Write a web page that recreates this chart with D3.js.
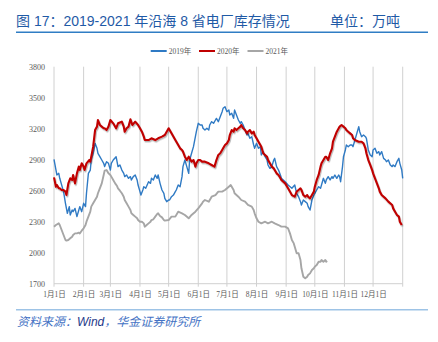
<!DOCTYPE html>
<html>
<head>
<meta charset="utf-8">
<script src="https://cdn.jsdelivr.net/npm/d3@7"></script>
<style>
  html, body { margin: 0; padding: 0; background: #fff; }
  svg { display: block; }
</style>
</head>
<body>
<svg id="chart" width="438" height="342"></svg>
<script>
// ---- Text and axis labels ----
const titleText = "图 17：2019-2021 年沿海 8 省电厂库存情况";
const unitText = "单位：万吨";
const sourceLead = "资料来源：";
const sourceName = "Wind";
const sourceTail = "，华金证券研究所";
const monthStarts = [0, 31, 59, 90, 120, 151, 181, 212, 243, 273, 304, 334];
const monthLabels = ["1月1日", "2月1日", "3月1日", "4月1日", "5月1日", "6月1日",
                     "7月1日", "8月1日", "9月1日", "10月1日", "11月1日", "12月1日"];
const yearEnd = 365;
const yTicks = [1700, 2000, 2300, 2600, 2900, 3200, 3500, 3800];
const seriesNames = ["2019年", "2020年", "2021年"];

// ---- Coal stock, [day of year, 10k tonnes] ----
const stock2019 = [[0,2904],[3,2752],[5,2768],[6,2720],[10,2591],[12,2478],[14,2381],[16,2446],[17,2365],[19,2413],[20,2397],[22,2429],[24,2349],[26,2413],[27,2446],[29,2397],[31,2478],[33,2446],[34,2575],[36,2768],[38,2800],[39,2897],[41,2962],[43,3058],[45,3010],[46,2962],[48,2929],[50,2897],[52,2865],[53,2833],[55,2881],[57,2865],[59,2800],[60,2865],[62,2897],[65,2929],[66,2881],[67,2833],[69,2849],[71,2800],[73,2768],[74,2736],[76,2752],[78,2720],[80,2736],[81,2704],[83,2736],[85,2752],[87,2704],[88,2655],[90,2591],[91,2558],[93,2607],[94,2639],[96,2623],[99,2687],[101,2671],[102,2720],[104,2704],[106,2752],[108,2720],[109,2752],[111,2671],[113,2607],[115,2575],[116,2526],[118,2494],[120,2510],[121,2510],[123,2542],[125,2558],[127,2591],[128,2607],[130,2655],[132,2639],[134,2736],[135,2833],[137,2897],[139,2833],[141,2768],[142,2897],[144,2962],[146,3026],[148,3123],[149,3171],[151,3252],[153,3236],[155,3236],[156,3204],[158,3187],[160,3204],[162,3187],[163,3236],[165,3268],[167,3252],[169,3284],[170,3300],[172,3268],[174,3316],[176,3365],[177,3397],[179,3413],[181,3365],[183,3381],[184,3333],[186,3349],[188,3300],[189,3381],[191,3333],[193,3284],[195,3252],[196,3268],[198,3236],[200,3187],[202,3139],[203,3155],[205,3107],[207,3123],[209,3042],[210,3010],[212,3058],[214,3010],[216,3026],[217,2946],[219,2978],[221,2929],[223,2897],[224,2849],[226,2816],[228,2833],[230,2897],[231,2913],[233,2833],[235,2800],[237,2752],[238,2720],[240,2704],[242,2687],[245,2655],[249,2623],[252,2655],[254,2575],[256,2542],[258,2494],[259,2462],[261,2510],[263,2494],[265,2478],[266,2446],[268,2413],[270,2510],[272,2558],[273,2575],[275,2607],[277,2639],[279,2623],[280,2655],[282,2720],[284,2671],[285,2704],[287,2736],[289,2704],[291,2736],[292,2720],[294,2752],[296,2720],[298,2752],[299,2736],[300,2687],[302,2833],[303,2929],[305,2994],[306,3042],[308,3026],[310,3042],[312,3042],[313,3026],[315,3090],[317,3155],[319,3220],[320,3171],[322,3123],[324,3139],[326,3123],[327,3107],[329,2994],[331,2946],[333,2929],[334,2994],[336,3010],[338,2962],[340,2978],[341,2946],[343,2978],[345,2913],[347,2897],[348,2881],[350,2897],[352,2849],[354,2833],[355,2849],[357,2833],[359,2881],[361,2913],[362,2865],[364,2800],[365,2720]];

const stock2020 = [[0,2729],[2,2639],[3,2655],[5,2623],[6,2623],[8,2607],[10,2607],[12,2591],[13,2558],[15,2671],[17,2720],[19,2704],[20,2752],[22,2671],[24,2768],[26,2833],[27,2800],[29,2865],[31,2833],[32,2800],[34,2865],[37,2897],[38,2881],[39,2929],[41,3026],[43,3187],[45,3220],[46,3284],[48,3236],[50,3220],[52,3204],[53,3204],[55,3187],[57,3220],[59,3284],[62,3252],[65,3204],[67,3252],[71,3268],[73,3220],[74,3171],[76,3204],[78,3220],[80,3291],[82,3236],[85,3268],[88,3236],[90,3204],[92,3171],[94,3123],[95,3090],[99,3090],[102,3107],[106,3090],[109,3107],[113,3123],[116,3139],[120,3204],[123,3155],[127,3090],[132,3010],[134,2994],[135,2978],[137,2929],[139,2897],[141,2929],[142,2913],[144,2881],[146,2897],[148,2833],[149,2865],[151,2897],[153,2897],[155,2881],[158,2881],[162,2865],[165,2849],[168,2833],[170,2897],[172,2946],[174,2962],[176,2994],[177,3010],[179,3042],[181,3058],[183,3090],[184,3139],[186,3187],[188,3171],[189,3204],[191,3187],[193,3204],[195,3220],[196,3236],[198,3204],[200,3187],[202,3155],[203,3171],[205,3187],[207,3155],[209,3171],[210,3139],[212,3107],[214,3074],[216,3042],[217,3026],[219,2962],[221,2946],[223,2929],[224,2897],[226,2865],[228,2833],[230,2816],[231,2800],[233,2768],[235,2752],[237,2720],[238,2704],[242,2671],[245,2623],[249,2558],[252,2542],[254,2591],[256,2607],[258,2623],[259,2607],[261,2558],[263,2542],[265,2558],[266,2542],[268,2526],[270,2558],[272,2591],[273,2639],[275,2704],[277,2752],[279,2833],[280,2865],[282,2897],[284,2929],[285,2929],[287,2897],[289,2962],[291,3010],[292,3074],[294,3123],[296,3171],[298,3204],[299,3220],[301,3236],[303,3220],[305,3204],[306,3187],[308,3171],[310,3155],[312,3139],[313,3107],[315,3090],[319,3074],[322,3074],[324,3058],[326,3010],[327,2962],[329,2897],[331,2849],[333,2800],[334,2768],[336,2720],[338,2671],[340,2623],[341,2591],[343,2558],[347,2526],[350,2494],[354,2462],[355,2429],[357,2397],[359,2365],[361,2349],[362,2300],[364,2268]];

const stock2021 = [[0,2252],[2,2268],[5,2284],[6,2268],[8,2220],[10,2171],[12,2123],[13,2117],[15,2123],[17,2139],[19,2155],[20,2171],[22,2187],[24,2187],[26,2194],[27,2187],[29,2213],[31,2236],[33,2268],[34,2300],[36,2349],[38,2397],[39,2446],[41,2478],[43,2510],[45,2542],[46,2575],[48,2623],[50,2671],[52,2752],[53,2794],[55,2800],[57,2768],[59,2752],[60,2736],[62,2704],[64,2671],[66,2645],[67,2623],[69,2600],[71,2575],[73,2542],[74,2510],[76,2478],[78,2446],[80,2413],[81,2381],[83,2365],[85,2349],[87,2333],[88,2316],[90,2300],[92,2300],[94,2284],[95,2252],[97,2268],[99,2284],[101,2300],[102,2316],[104,2323],[106,2349],[108,2374],[109,2381],[111,2355],[113,2342],[115,2316],[116,2310],[120,2316],[123,2349],[127,2349],[130,2397],[134,2381],[137,2365],[141,2333],[144,2365],[148,2397],[151,2429],[155,2478],[156,2494],[158,2510],[162,2494],[165,2542],[169,2558],[172,2591],[176,2591],[179,2607],[183,2639],[185,2655],[188,2607],[189,2575],[193,2542],[196,2510],[200,2494],[203,2462],[207,2446],[209,2413],[210,2381],[212,2333],[214,2300],[217,2284],[221,2300],[224,2284],[228,2300],[231,2284],[235,2268],[238,2252],[242,2252],[245,2236],[247,2187],[249,2123],[251,2090],[252,2058],[254,1994],[256,1994],[258,1929],[259,1849],[261,1768],[263,1752],[265,1768],[266,1784],[268,1800],[270,1833],[272,1849],[273,1865],[275,1881],[277,1913],[279,1913],[280,1929],[282,1913],[284,1929],[285,1913],[286,1919]];

const seriesData = [stock2019, stock2020, stock2021];
const seriesColors = ["#2f7ac4", "#c00000", "#a6a6a6"];
const seriesWidths = [1.4, 2.1, 1.9];

// ---- Layout ----
const svg = d3.select("#chart");
const plot = { left: 54, right: 402.7, top: 66.7, bottom: 283.7 };
const x = d3.scaleLinear().domain([0, yearEnd]).range([plot.left, plot.right]);
const y = d3.scaleLinear().domain([1700, 3800]).range([plot.bottom, plot.top]);

const cjkSans = "'Liberation Sans', Arial, 'Noto Sans CJK SC', sans-serif";
const cjkSerif = "'Liberation Serif', 'Times New Roman', 'Noto Sans CJK SC', serif";

// Soft shadow under the 2020 line
const defs = svg.append("defs");
const shadow = defs.append("filter").attr("id", "lineShadow")
  .attr("x", "-5%").attr("y", "-5%").attr("width", "110%").attr("height", "120%");
shadow.append("feDropShadow").attr("dx", 0.8).attr("dy", 1.4)
  .attr("stdDeviation", 0.7).attr("flood-color", "#000").attr("flood-opacity", 0.3);

// Header
svg.append("text").attr("x", 16).attr("y", 26)
  .attr("font-family", cjkSans).attr("font-size", 14).attr("fill", "#1f5aa6")
  .text(titleText);
svg.append("text").attr("x", 330).attr("y", 26)
  .attr("font-family", cjkSans).attr("font-size", 14).attr("fill", "#1f5aa6")
  .text(unitText);
svg.append("line").attr("x1", 16).attr("x2", 428).attr("y1", 32.3).attr("y2", 32.3)
  .attr("stroke", "#2f7dc4").attr("stroke-width", 1.4);

// Vertical gridlines at month starts and year end
const gridDays = monthStarts.concat([yearEnd]);
svg.append("g").selectAll("line").data(gridDays).join("line")
  .attr("x1", d => x(d)).attr("x2", d => x(d))
  .attr("y1", plot.top).attr("y2", plot.bottom + 3)
  .attr("stroke", "#d0d0d0").attr("stroke-width", 1);

// Baseline
svg.append("line").attr("x1", plot.left).attr("x2", plot.right)
  .attr("y1", plot.bottom).attr("y2", plot.bottom)
  .attr("stroke", "#d0d0d0").attr("stroke-width", 1);

// X axis labels
const xAxis = d3.axisBottom(x).tickValues(monthStarts)
  .tickFormat((d, i) => monthLabels[i]).tickSize(0).tickPadding(8);
const gx = svg.append("g").attr("transform", `translate(0,${plot.bottom})`).call(xAxis);
gx.select(".domain").remove();
gx.selectAll("text").attr("font-family", cjkSerif).attr("font-size", 7.5).attr("fill", "#595959");

// Y axis labels
const yAxis = d3.axisLeft(y).tickValues(yTicks).tickFormat(d3.format("d"))
  .tickSize(0).tickPadding(9);
const gy = svg.append("g").attr("transform", `translate(${plot.left},0)`).call(yAxis);
gy.select(".domain").remove();
gy.selectAll("text").attr("font-family", cjkSerif).attr("font-size", 8).attr("fill", "#595959");

// Series lines
const line = d3.line().x(d => x(d[0])).y(d => y(d[1])).curve(d3.curveLinear);
seriesData.forEach((data, i) => {
  svg.append("path").datum(data)
    .attr("d", line)
    .attr("fill", "none")
    .attr("stroke", seriesColors[i])
    .attr("stroke-width", seriesWidths[i])
    .attr("stroke-linejoin", "round")
    .attr("filter", i === 1 ? "url(#lineShadow)" : null);
});

// Legend
const legendX = [150.7, 199, 247.5];
const legend = svg.append("g").selectAll("g").data(seriesNames).join("g")
  .attr("transform", (d, i) => `translate(${legendX[i]},51)`);
legend.append("line").attr("x1", 0).attr("x2", 16).attr("y1", 0).attr("y2", 0)
  .attr("stroke", (d, i) => seriesColors[i]).attr("stroke-width", 2);
legend.append("text").attr("x", 18).attr("y", 2.8)
  .attr("font-family", cjkSerif).attr("font-size", 7.5).attr("fill", "#595959")
  .text(d => d);

// Footer
svg.append("line").attr("x1", 16).attr("x2", 428).attr("y1", 309.7).attr("y2", 309.7)
  .attr("stroke", "#9dc3e6").attr("stroke-width", 1.6);
const src = svg.append("text").attr("x", 17).attr("y", 326)
  .attr("font-family", cjkSans).attr("font-size", 12).attr("font-style", "italic")
  .attr("fill", "#4472c4");
src.append("tspan").text(sourceLead);
src.append("tspan").attr("fill", "#1f3a8a").text(sourceName);
src.append("tspan").text(sourceTail);
</script>
</body>
</html>
